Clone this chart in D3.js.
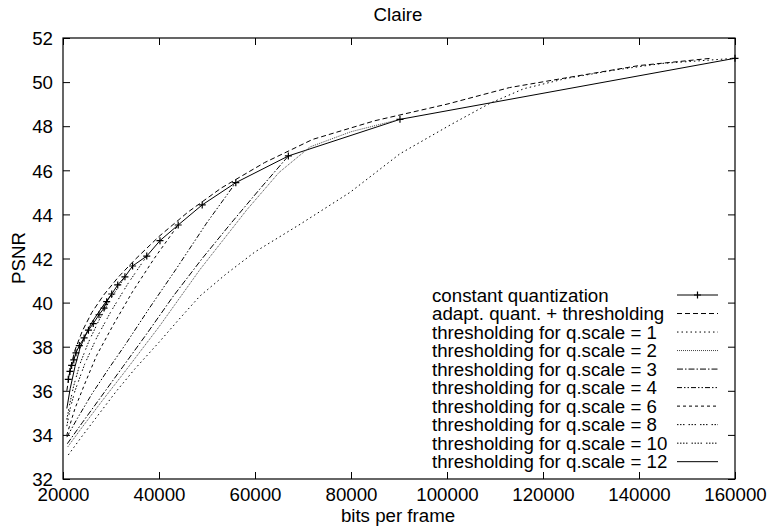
<!DOCTYPE html>
<html>
<head>
<meta charset="utf-8">
<script src="https://cdn.jsdelivr.net/npm/d3@7"></script>
<style>
  body { margin: 0; background: #fff; }
  text { font-family: "Liberation Sans", Arial, Helvetica, sans-serif; fill: #000; }
</style>
</head>
<body>
<svg id="chart"></svg>
<script>
// Data: [bits per frame, PSNR]
const constantQuant = [
  [21100, 36.52], [21450, 36.88], [21800, 37.15], [22250, 37.40], [22700, 37.72],
  [23400, 38.05], [24400, 38.40], [25300, 38.75], [26300, 39.05], [27500, 39.45],
  [28550, 39.75], [29100, 40.04], [30150, 40.39], [31400, 40.80], [32900, 41.17],
  [34500, 41.66], [37450, 42.11], [40200, 42.81], [44000, 43.52], [49000, 44.43],
  [56000, 45.44], [66950, 46.65], [90200, 48.31], [160000, 51.08]
];
const adaptQuant = [
  [20800, 36.0], [21500, 37.0], [22500, 37.85], [24000, 38.7], [26000, 39.55],
  [28500, 40.35], [31500, 41.15], [35000, 41.95], [40000, 43.0], [46000, 44.1],
  [53000, 45.2], [62000, 46.35], [72000, 47.4], [85000, 48.25], [100000, 49.0],
  [113000, 49.75], [125000, 50.2], [140000, 50.75], [155000, 51.08]
];
const thresh1 = [
  [21100, 33.09], [24000, 33.95], [27500, 34.95], [31000, 35.95], [35000, 37.0],
  [40000, 38.2], [44000, 39.2], [48540, 40.3], [54000, 41.3], [60000, 42.3],
  [69375, 43.55], [79800, 45.0], [90200, 46.75], [100625, 48.05], [108958, 49.04],
  [116000, 49.7], [124930, 50.17], [135000, 50.55], [145000, 50.85], [160000, 51.08]
];
const thresh2 = [
  [21000, 33.46], [24000, 34.35], [28000, 35.5], [33000, 36.9], [40000, 38.9],
  [48540, 41.5], [58270, 44.2], [65000, 45.9], [71460, 47.06], [80000, 47.75],
  [90200, 48.31]
];
const thresh3 = [
  [20900, 33.6], [24000, 34.55], [28000, 35.75], [32500, 37.1], [37500, 38.6],
  [43000, 40.3], [49000, 42.0], [55000, 43.6], [61000, 45.15], [66950, 46.65]
];
const thresh4 = [
  [20800, 33.9], [23000, 34.75], [26000, 35.85], [29500, 37.0], [33000, 38.1],
  [38000, 39.75], [43500, 41.5], [49900, 43.6], [56000, 45.44]
];
const thresh6 = [
  [20800, 34.0], [22500, 35.2], [24500, 36.3], [27000, 37.6], [30500, 39.0],
  [34500, 40.5], [39000, 42.0], [44000, 43.52]
];
const thresh8 = [
  [20800, 34.4], [21500, 35.2], [22500, 36.0], [24500, 37.2], [27000, 38.4],
  [30000, 39.6], [33500, 40.85], [37450, 42.11]
];
const thresh10 = [
  [20800, 34.7], [21400, 35.4], [22200, 36.2], [23500, 37.2], [25300, 38.2],
  [27500, 39.2], [30000, 40.2], [32900, 41.17]
];
const thresh12 = [
  [20800, 35.2], [21500, 36.1], [22500, 37.1], [23500, 37.9], [24600, 38.5],
  [26000, 39.1], [28000, 39.75], [30150, 40.39]
];

const seriesNames = [
  "constant quantization",
  "adapt. quant. + thresholding",
  "thresholding for q.scale = 1",
  "thresholding for q.scale = 2",
  "thresholding for q.scale = 3",
  "thresholding for q.scale = 4",
  "thresholding for q.scale = 6",
  "thresholding for q.scale = 8",
  "thresholding for q.scale = 10",
  "thresholding for q.scale = 12"
];
const seriesData = [constantQuant, adaptQuant, thresh1, thresh2, thresh3,
                    thresh4, thresh6, thresh8, thresh10, thresh12];

const xTicks = [20000, 40000, 60000, 80000, 100000, 120000, 140000, 160000];
const yTicks = [32, 34, 36, 38, 40, 42, 44, 46, 48, 50, 52];

// line styles (gnuplot-like monochrome)
const dashes = ["none", "5,3", "1.5,3", "1,1", "6,2,1.5,2", "5,2,1.5,2,1.5,2",
                "3,3", "1.5,1.5,1.5,1.5,1.5,4", "1.5,1.5,1.5,1.5,1.5,1.5,1.5,4", "none"];
const strokes = ["#000", "#000", "#000", "#444", "#000", "#000", "#000", "#000", "#000", "#000"];

const W = 767, H = 529;
const margin = { top: 38, right: 32, bottom: 50, left: 63 };
const width = W - margin.left - margin.right;
const height = H - margin.top - margin.bottom;

const svg = d3.select("#chart").attr("width", W).attr("height", H);
const g = svg.append("g").attr("transform", `translate(${margin.left},${margin.top})`);

const x = d3.scaleLinear().domain([20000, 160000]).range([0, width]);
const y = d3.scaleLinear().domain([32, 52]).range([height, 0]);

const fs = "18.7px";

// Axes with inward ticks, mirrored
g.append("g").attr("transform", `translate(0,${height})`)
  .call(d3.axisBottom(x).tickValues(xTicks).tickSize(-7).tickPadding(9).tickFormat(d3.format("d")))
  .call(a => a.select(".domain").remove())
  .call(a => a.selectAll("text").style("font-size", fs).attr("dy", "0.72em"));
g.append("g")
  .call(d3.axisTop(x).tickValues(xTicks).tickSize(-7).tickFormat(""))
  .call(a => a.select(".domain").remove());
g.append("g")
  .call(d3.axisLeft(y).tickValues(yTicks).tickSize(-7).tickPadding(10))
  .call(a => a.select(".domain").remove())
  .call(a => a.selectAll("text").style("font-size", fs).attr("dy", "0.36em"));
g.append("g").attr("transform", `translate(${width},0)`)
  .call(d3.axisRight(y).tickValues(yTicks).tickSize(-7).tickFormat(""))
  .call(a => a.select(".domain").remove());
g.selectAll(".tick line").attr("stroke", "#000");

// Border
g.append("rect").attr("width", width).attr("height", height)
  .attr("fill", "none").attr("stroke", "#000").attr("stroke-width", 1.2);

// Lines
const line = d3.line().x(d => x(d[0])).y(d => y(d[1]));
seriesData.forEach((data, i) => {
  g.append("path")
    .datum(data)
    .attr("fill", "none")
    .attr("stroke", strokes[i])
    .attr("stroke-width", 1)
    .attr("stroke-dasharray", dashes[i])
    .attr("d", line);
});

// + markers for constant quantization
g.selectAll(".pt").data(constantQuant).enter()
  .append("path").attr("class", "pt")
  .attr("transform", d => `translate(${x(d[0])},${y(d[1])})`)
  .attr("d", "M-3.5,0H3.5M0,-3.5V3.5")
  .attr("stroke", "#000").attr("stroke-width", 1.2).attr("fill", "none");

// Legend
const legend = svg.append("g");
seriesNames.forEach((name, i) => {
  const ly = 295 + i * 18.52;
  legend.append("text").attr("x", 432).attr("y", ly).attr("dy", "0.36em")
    .style("font-size", fs).text(name);
  legend.append("line").attr("x1", 677).attr("x2", 718).attr("y1", ly).attr("y2", ly)
    .attr("stroke", strokes[i]).attr("stroke-width", 1)
    .attr("stroke-dasharray", dashes[i]);
  if (i === 0) {
    legend.append("path").attr("transform", `translate(697.5,${ly})`)
      .attr("d", "M-3.5,0H3.5M0,-3.5V3.5").attr("stroke", "#000").attr("stroke-width", 1.2);
  }
});

// Title and axis labels
svg.append("text").attr("x", 398).attr("y", 20.7).attr("text-anchor", "middle")
  .style("font-size", fs).text("Claire");
svg.append("text").attr("x", 398).attr("y", 521.5).attr("text-anchor", "middle")
  .style("font-size", fs).text("bits per frame");
svg.append("text").attr("transform", "translate(24.5,258) rotate(-90)")
  .attr("text-anchor", "middle").style("font-size", fs).text("PSNR");
</script>
</body>
</html>
